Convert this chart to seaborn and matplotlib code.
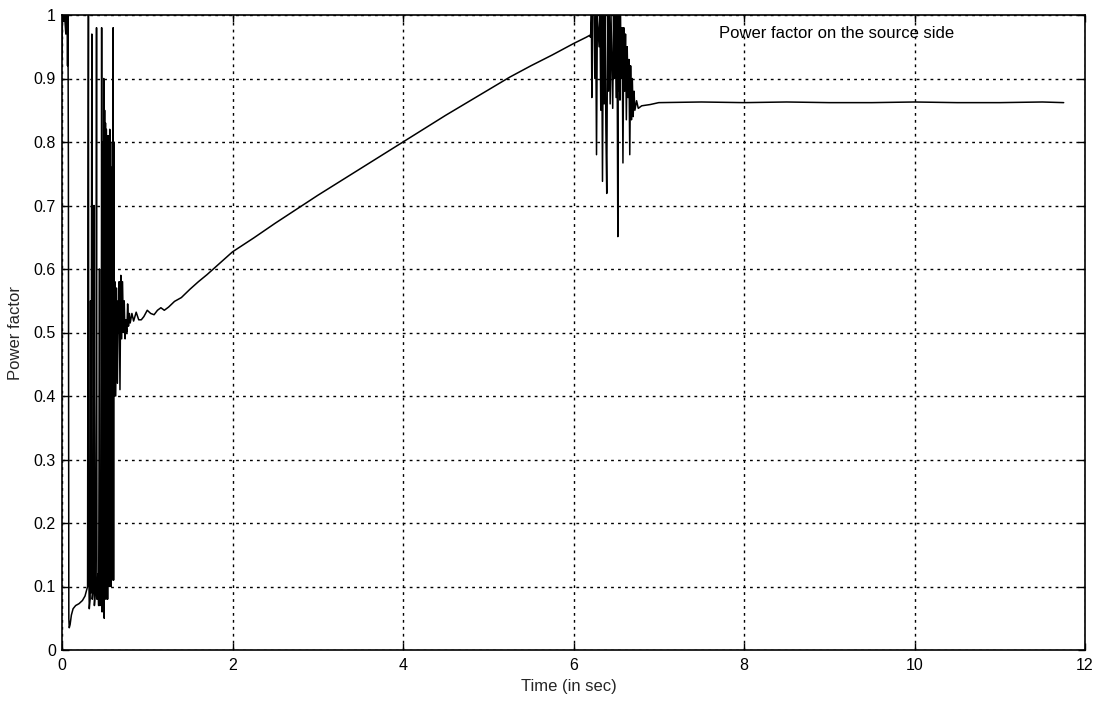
import matplotlib
matplotlib.use("Agg")
import matplotlib.pyplot as plt
import seaborn as sns
import pandas as pd

# ---- data ----
time_s = [
    0.000, 0.005, 0.020, 0.030, 0.045, 0.050, 0.060, 0.065, 0.070, 0.075,
    0.080, 0.085, 0.095, 0.110, 0.130, 0.160, 0.200, 0.240, 0.270, 0.290,
    0.300, 0.305, 0.310, 0.315, 0.320, 0.330, 0.335, 0.340, 0.350, 0.355,
    0.370, 0.375, 0.380, 0.390, 0.400, 0.405, 0.410, 0.420, 0.430, 0.440,
    0.445, 0.460, 0.465, 0.470, 0.480, 0.485, 0.490, 0.495, 0.500, 0.505,
    0.510, 0.515, 0.520, 0.525, 0.530, 0.535, 0.540, 0.545, 0.550, 0.555,
    0.560, 0.565, 0.570, 0.575, 0.580, 0.585, 0.590, 0.595, 0.600, 0.605,
    0.610, 0.615, 0.620, 0.630, 0.640, 0.650, 0.660, 0.665, 0.670, 0.680,
    0.690, 0.700, 0.710, 0.720, 0.730, 0.740, 0.750, 0.760, 0.770, 0.780,
    0.790, 0.800, 0.820, 0.840, 0.870, 0.900, 0.930, 0.960, 1.000, 1.040,
    1.080, 1.120, 1.160, 1.200, 1.250, 1.320, 1.400, 1.500, 1.600, 1.700,
    1.800, 1.900, 2.000, 2.250, 2.500, 2.750, 3.000, 3.250, 3.500, 3.750,
    4.000, 4.250, 4.500, 4.750, 5.000, 5.250, 5.500, 5.750, 6.000, 6.150,
    6.190, 6.200, 6.210, 6.215, 6.220, 6.240, 6.250, 6.260, 6.270, 6.280,
    6.300, 6.310, 6.320, 6.330, 6.340, 6.350, 6.360, 6.370, 6.380, 6.390,
    6.400, 6.410, 6.420, 6.430, 6.440, 6.460, 6.470, 6.480, 6.490, 6.500,
    6.510, 6.520, 6.525, 6.530, 6.540, 6.545, 6.550, 6.560, 6.570, 6.580,
    6.590, 6.600, 6.610, 6.620, 6.630, 6.640, 6.650, 6.660, 6.670, 6.680,
    6.690, 6.700, 6.710, 6.720, 6.740, 6.760, 6.800, 6.900, 7.000, 7.500,
    8.000, 8.500, 9.000, 9.500, 10.000, 10.500, 11.000, 11.500, 11.750,
]
power_factor = [
    0.930, 1.000, 0.990, 1.000, 0.970, 1.000, 0.990, 0.920, 1.000, 0.760,
    0.050, 0.035, 0.040, 0.055, 0.065, 0.070, 0.073, 0.078, 0.085, 0.095,
    0.100, 0.670, 1.000, 0.120, 0.065, 0.080, 0.550, 0.090, 0.970, 0.080,
    0.100, 0.700, 0.070, 0.090, 0.400, 0.980, 0.080, 0.120, 0.070, 0.600,
    0.070, 0.100, 0.980, 0.060, 0.800, 0.100, 0.900, 0.050, 0.850, 0.100,
    0.830, 0.080, 0.820, 0.200, 0.800, 0.080, 0.810, 0.120, 0.780, 0.100,
    0.820, 0.200, 0.800, 0.100, 0.760, 0.110, 0.720, 0.400, 0.980, 0.110,
    0.800, 0.400, 0.580, 0.400, 0.570, 0.420, 0.550, 0.500, 0.580, 0.410,
    0.590, 0.490, 0.580, 0.500, 0.550, 0.490, 0.520, 0.500, 0.545, 0.510,
    0.530, 0.515, 0.530, 0.518, 0.532, 0.520, 0.520, 0.525, 0.535, 0.530,
    0.528, 0.535, 0.539, 0.535, 0.540, 0.549, 0.555, 0.568, 0.580, 0.591,
    0.603, 0.615, 0.627, 0.649, 0.672, 0.694, 0.716, 0.737, 0.758, 0.779,
    0.800, 0.821, 0.842, 0.862, 0.882, 0.902, 0.920, 0.937, 0.955, 0.965,
    0.968, 0.965, 1.000, 0.870, 1.000, 1.000, 0.900, 1.000, 0.780, 1.000,
    0.950, 1.000, 0.850, 1.000, 0.738, 1.000, 0.860, 1.000, 0.820, 0.719,
    1.000, 0.880, 1.000, 0.860, 1.000, 0.853, 1.000, 0.900, 1.000, 0.870,
    1.000, 0.651, 1.000, 0.880, 1.000, 0.866, 1.000, 0.900, 0.980, 0.767,
    0.980, 0.880, 0.970, 0.835, 0.950, 0.870, 0.930, 0.780, 0.920, 0.835,
    0.900, 0.840, 0.880, 0.850, 0.865, 0.853, 0.857, 0.859, 0.862, 0.863,
    0.862, 0.863, 0.862, 0.862, 0.863, 0.862, 0.862, 0.863, 0.862,
]
x_ticks = [0, 2, 4, 6, 8, 10, 12]
x_tick_labels = ["0", "2", "4", "6", "8", "10", "12"]
y_ticks = [0.0, 0.1, 0.2, 0.3, 0.4, 0.5, 0.6, 0.7, 0.8, 0.9, 1.0]
y_tick_labels = ["0", "0.1", "0.2", "0.3", "0.4", "0.5", "0.6", "0.7", "0.8", "0.9", "1"]
x_label = "Time (in sec)"
y_label = "Power factor"
annotation = "Power factor on the source side"

df = pd.DataFrame({"t": time_s, "pf": power_factor})

sns.set_style("white")
plt.rcParams["font.family"] = ["Liberation Sans", "DejaVu Sans"]

fig = plt.figure(figsize=(11.01, 7.01), dpi=100)
ax = fig.add_axes([62 / 1101, 51 / 701, 1023 / 1101, 635 / 701])

sns.lineplot(data=df, x="t", y="pf", ax=ax, color="black", linewidth=1.1,
             estimator=None, sort=False)

ax.set_xlim(0, 12)
ax.set_ylim(0, 1)
ax.set_xticks(x_ticks)
ax.set_xticklabels(x_tick_labels)
ax.set_yticks(y_ticks)
ax.set_yticklabels(y_tick_labels)

ax.grid(True, color="black", linestyle=(0, (2, 3)), linewidth=1.0)
ax.set_axisbelow(True)

for sp in ax.spines.values():
    sp.set_visible(True)
    sp.set_color("black")
    sp.set_linewidth(1.2)

ax.tick_params(axis="both", which="both", direction="in", length=5, width=1,
               top=True, right=True, bottom=True, left=True,
               labelsize=11.5, colors="black")
ax.tick_params(axis="y", pad=4.5)
ax.tick_params(axis="x", pad=5.5)

ax.set_xlabel(x_label, fontsize=12)
ax.set_ylabel(y_label, fontsize=12)
ax.xaxis.set_label_coords(0.495, -0.045)
ax.yaxis.set_label_coords(-0.038, 0.5)
ax.xaxis.label.set_va("top")

ax.text(7.71, 0.963, annotation, fontsize=12, ha="left", va="baseline", color="black")

fig.savefig("out.png", dpi=100, facecolor="white")
